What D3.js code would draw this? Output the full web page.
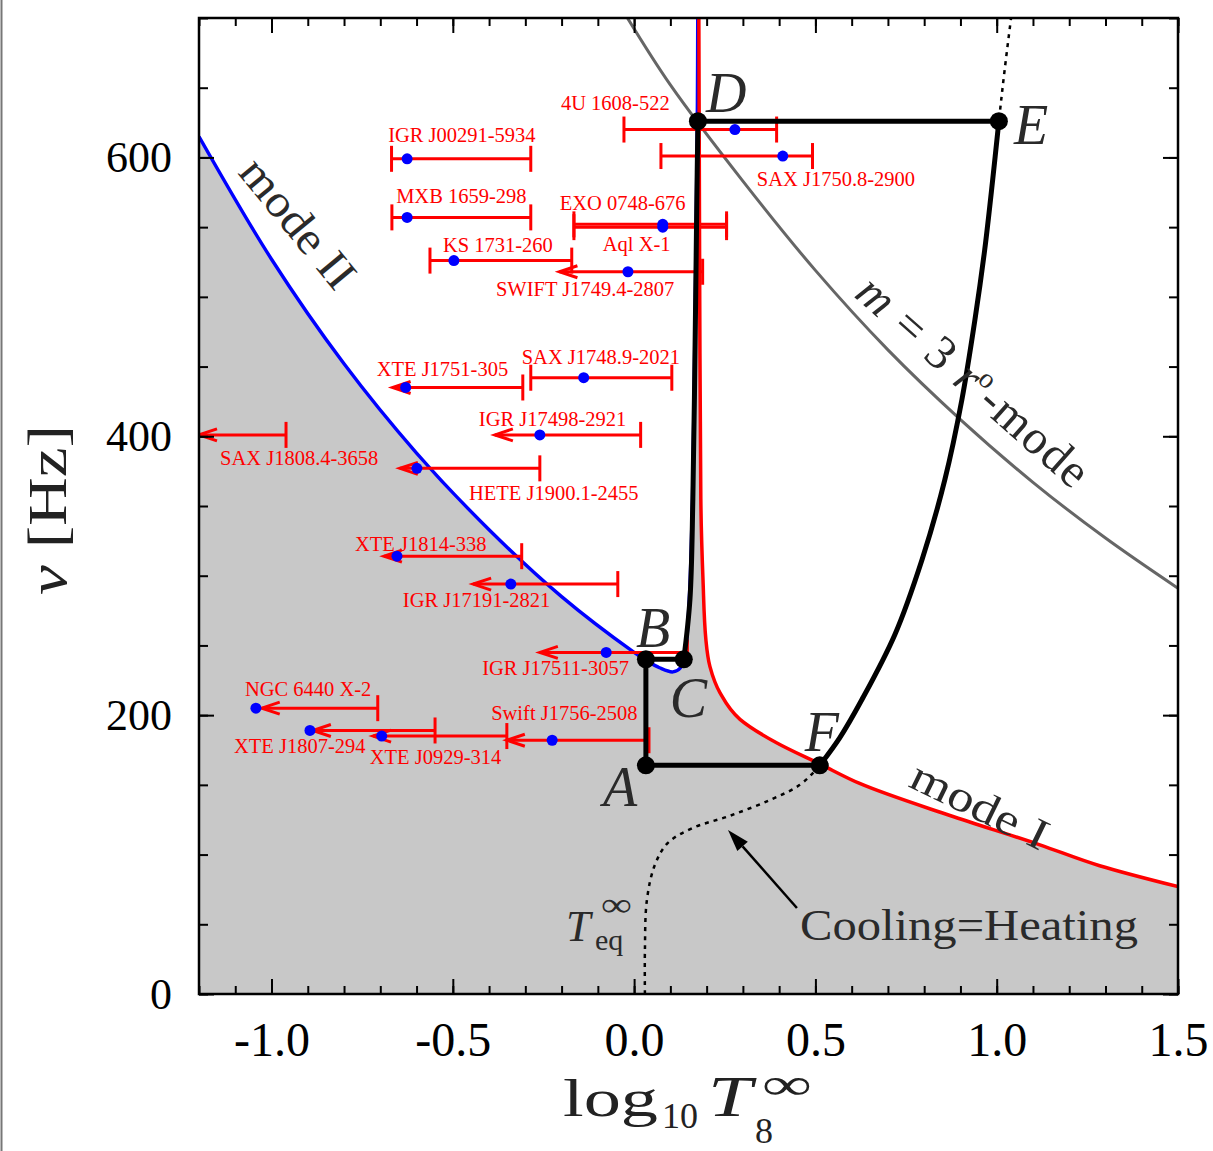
<!DOCTYPE html>
<html>
<head>
<meta charset="utf-8">
<script src="https://cdn.jsdelivr.net/npm/d3@7"></script>
<style>
  body { margin: 0; background: #fff; }
  svg { display: block; }
  text { font-family: "Liberation Serif", "Times New Roman", serif; }
</style>
</head>
<body>
<div id="wrapper"></div>
<script>
// ---- data ----
const sourceNames = ["IGR J00291-5934", "MXB 1659-298", "EXO 0748-676", "Aql X-1", "KS 1731-260",
  "SWIFT J1749.4-2807", "4U 1608-522", "SAX J1750.8-2900", "SAX J1748.9-2021", "XTE J1751-305",
  "IGR J17498-2921", "SAX J1808.4-3658", "HETE J1900.1-2455", "XTE J1814-338", "IGR J17191-2821",
  "IGR J17511-3057", "NGC 6440 X-2", "XTE J1807-294", "XTE J0929-314", "Swift J1756-2508"]
const sourceNu = [599, 557, 552, 550, 526, 518, 620, 601, 442, 435, 401, 401, 377, 314, 294, 245, 205, 189, 185, 182]
const sourceLogT = [-0.626, -0.626, 0.079, 0.079, -0.497, -0.017, 0.278, 0.410, -0.139, -0.630,
  -0.260, null, -0.599, -0.654, -0.340, -0.077, -1.043, -0.894, -0.696, -0.226]
const sourceLow = [-0.669, -0.668, -0.166, -0.166, -0.563, -0.206, -0.028, 0.074, -0.285, -0.666,
  -0.384, -1.2, -0.646, -0.690, -0.444, -0.260, -1.027, -0.886, -0.720, -0.351]
const sourceHigh = [-0.285, -0.285, 0.255, 0.255, -0.172, 0.189, 0.393, 0.492, 0.104, -0.307,
  0.018, -0.960, -0.260, -0.310, -0.045, 0.147, -0.707, -0.549, -0.351, 0.041]
const sourceUpperLimit = [false, false, false, false, false, true, false, false, false, true,
  true, true, true, true, true, true, true, true, true, true]

// mode II instability curve (blue)
const modeIICurve = [[-1.2, 615], [-1.0, 527], [-0.8, 452], [-0.6, 388], [-0.4, 333],
  [-0.2, 285], [0.0, 245], [0.035, 239], [0.07, 234], [0.107, 231], [0.128, 234], [0.14, 243],
  [0.152, 283], [0.161, 355], [0.167, 462], [0.172, 570], [0.1745, 640], [0.1755, 705]]
// mode I instability curve (red)
const modeICurve = [[0.1785, 705], [0.181, 498], [0.184, 355], [0.190, 297], [0.198, 254],
  [0.209, 235], [0.237, 216], [0.292, 197], [0.394, 180], [0.512, 165], [0.622, 151],
  [0.871, 128], [1.119, 107], [1.284, 92], [1.5, 77]]
// m = 3 r-mode curve (grey)
const rMode3Curve = [[-0.03, 705], [0.1, 652], [0.3, 583], [0.5, 519], [0.7, 462], [0.9, 412],
  [1.1, 367], [1.3, 327], [1.5, 291]]
// cooling = heating (dotted)
const eqCurve = [[0.0298, 0], [0.0298, 31.6], [0.0353, 67.5], [0.0573, 92.6], [0.0932, 108.4],
  [0.162, 119.1], [0.264, 127.8], [0.375, 139.2], [0.457, 150], [0.512, 164], [0.567, 183.7],
  [0.628, 211], [0.719, 257.7], [0.794, 311.5], [0.857, 368.9], [0.904, 426.3], [0.940, 483.7],
  [0.967, 534], [0.989, 584.2], [1.006, 626], [1.022, 663], [1.042, 705]]
// spin-up track from C to D
const cdCurve = [[0.137, 240], [0.154, 283], [0.162, 355], [0.168, 462], [0.173, 570], [0.176, 626]]
// track corners
const trackNames = ["A", "B", "C", "D", "E", "F"]
const trackLogT = [0.0325, 0.0325, 0.137, 0.176, 1.006, 0.512]
const trackNu = [164, 240, 240, 626, 626, 164]

const xTicks = [-1.0, -0.5, 0.0, 0.5, 1.0, 1.5]
const yTicks = [0, 200, 400, 600]

// ---- layout ----
const labelOffsets = [[-19, -17], [-11, -14], [-103, -14], [-60, 24], [-11, -9], [-132, 24],
  [-174, -20], [-26, 30], [-62, -14], [-29, -11], [-61, -9], [-66, 30], [52, 32], [-42, -5],
  [-108, 23], [-124, 23], [-11, -12], [-76, 23], [-12, 28], [-61, -20]]
const letterOffsets = [[-43, 41], [-10, -12], [-14, 58], [8, -9], [15, 23], [-15, -14]]

const width = 1213, height = 1151
const plotBox = { left: 199, right: 1178, top: 18, bottom: 994 }

const x = d3.scaleLinear().domain([-1.2, 1.5]).range([plotBox.left, plotBox.right])
const y = d3.scaleLinear().domain([0, 700]).range([plotBox.bottom, plotBox.top])

const svg = d3.select("#wrapper").append("svg")
  .attr("width", width)
  .attr("height", height)

svg.append("line")
  .attr("x1", 1.5).attr("x2", 1.5).attr("y1", 0).attr("y2", height)
  .attr("stroke", "#777").attr("stroke-width", 2)

svg.append("defs").append("clipPath").attr("id", "plotclip")
  .append("rect")
  .attr("x", plotBox.left).attr("y", plotBox.top)
  .attr("width", plotBox.right - plotBox.left)
  .attr("height", plotBox.bottom - plotBox.top)

const plot = svg.append("g").attr("clip-path", "url(#plotclip)")

const smoothLine = d3.line().x(d => x(d[0])).y(d => y(d[1])).curve(d3.curveCatmullRom.alpha(0.5))
const redLine = d3.line().x(d => x(d[0])).y(d => y(d[1])).curve(d3.curveMonotoneY)
const straight = d3.line().x(d => x(d[0])).y(d => y(d[1]))

// grey stable region
plot.append("path")
  .attr("d", `${smoothLine(modeIICurve)}L${redLine(modeICurve).slice(1)}L${x(1.5)},${y(0)}L${x(-1.2)},${y(0)}Z`)
  .attr("fill", "#c8c8c8")

// r-mode m=3
plot.append("path")
  .attr("d", smoothLine(rMode3Curve))
  .attr("fill", "none").attr("stroke", "#666").attr("stroke-width", 3)

// cooling = heating
plot.append("path")
  .attr("d", smoothLine(eqCurve))
  .attr("fill", "none").attr("stroke", "#000").attr("stroke-width", 2.5)
  .attr("stroke-dasharray", "4,5")

plot.append("path")
  .attr("d", smoothLine(modeIICurve))
  .attr("fill", "none").attr("stroke", "#0000ff").attr("stroke-width", 3.4)

plot.append("path")
  .attr("d", redLine(modeICurve))
  .attr("fill", "none").attr("stroke", "#ff0000").attr("stroke-width", 3.5)

// sources
const sources = sourceNames.map((name, i) => ({
  name, nu: sourceNu[i], t: sourceLogT[i], lo: sourceLow[i], hi: sourceHigh[i],
  ul: sourceUpperLimit[i], off: labelOffsets[i]
}))

const bars = plot.append("g")
  .attr("stroke", "#ff0000").attr("stroke-width", 3).attr("fill", "none")
sources.forEach(d => {
  const yy = y(d.nu)
  bars.append("line").attr("x1", x(d.lo)).attr("x2", x(d.hi)).attr("y1", yy).attr("y2", yy)
  bars.append("line").attr("x1", x(d.hi)).attr("x2", x(d.hi)).attr("y1", yy - 13).attr("y2", yy + 13)
  if (d.ul) {
    const tip = x(d.lo)
    bars.append("path").attr("d", `M${tip + 18},${yy - 6}L${tip},${yy}L${tip + 18},${yy + 6}`)
  } else {
    bars.append("line").attr("x1", x(d.lo)).attr("x2", x(d.lo)).attr("y1", yy - 13).attr("y2", yy + 13)
  }
})

// evolutionary track
const track = trackNames.map((n, i) => [trackLogT[i], trackNu[i]])
const efCurve = eqCurve.filter(d => d[1] >= trackNu[5] && d[1] <= trackNu[4])
const trackG = plot.append("g")
  .attr("fill", "none").attr("stroke", "#000").attr("stroke-width", 5)
  .attr("stroke-linecap", "round").attr("stroke-linejoin", "round")
trackG.append("path").attr("d", straight([track[0], track[1], track[2]]))
trackG.append("path").attr("d", smoothLine(cdCurve))
trackG.append("path").attr("d", straight([track[3], track[4]]))
trackG.append("path").attr("d", smoothLine(efCurve))
trackG.append("path").attr("d", straight([track[5], track[0]]))

plot.append("g").selectAll("circle")
  .data(sources.filter(d => d.t !== null))
  .join("circle")
  .attr("cx", d => x(d.t)).attr("cy", d => y(d.nu)).attr("r", 5.5)
  .attr("fill", "#0000ff")

plot.append("g").selectAll("circle")
  .data(track)
  .join("circle")
  .attr("cx", d => x(d[0])).attr("cy", d => y(d[1])).attr("r", 9)
  .attr("fill", "#000")

// source labels
svg.append("g").selectAll("text")
  .data(sources)
  .join("text")
  .attr("x", d => x(d.t !== null ? d.t : d.hi) + d.off[0])
  .attr("y", d => y(d.nu) + d.off[1])
  .attr("font-size", 20.5)
  .attr("fill", "#ff0000")
  .text(d => d.name)

// track letters
svg.append("g").selectAll("text")
  .data(trackNames)
  .join("text")
  .attr("x", (d, i) => x(trackLogT[i]) + letterOffsets[i][0])
  .attr("y", (d, i) => y(trackNu[i]) + letterOffsets[i][1])
  .attr("font-size", 56).attr("font-style", "italic").attr("fill", "#2a2a2a")
  .text(d => d)

// curve labels
svg.append("text")
  .attr("transform", "translate(237,173) rotate(50.5)")
  .attr("font-size", 46).attr("fill", "#2a2a2a")
  .attr("textLength", 155).attr("lengthAdjust", "spacingAndGlyphs")
  .text("mode II")

svg.append("text")
  .attr("transform", "translate(907,786) rotate(26)")
  .attr("font-size", 44).attr("fill", "#2a2a2a")
  .attr("textLength", 148).attr("lengthAdjust", "spacingAndGlyphs")
  .text("mode I")

const rLabel = svg.append("text")
  .attr("transform", "translate(853,296) rotate(41.5)")
  .attr("font-size", 48).attr("fill", "#2a2a2a")
  .attr("letter-spacing", 1.5)
rLabel.append("tspan").attr("font-style", "italic").text("m")
rLabel.append("tspan").text(" = 3 ")
rLabel.append("tspan").attr("font-style", "italic").text("r")
rLabel.append("tspan").attr("font-size", 28).attr("dy", -18).attr("dx", -2).text("o")
rLabel.append("tspan").attr("dy", 18).text("-mode")

svg.append("text")
  .attr("x", 800).attr("y", 940)
  .attr("font-size", 44).attr("fill", "#2a2a2a")
  .attr("textLength", 338).attr("lengthAdjust", "spacingAndGlyphs")
  .text("Cooling=Heating")

svg.append("text").attr("x", 566).attr("y", 941)
  .attr("font-size", 44).attr("font-style", "italic").attr("fill", "#2a2a2a").text("T")
svg.append("text").attr("x", 595).attr("y", 950)
  .attr("font-size", 30).attr("fill", "#2a2a2a").text("eq")
svg.append("text").attr("x", 601).attr("y", 916)
  .attr("font-size", 34).attr("fill", "#2a2a2a")
  .attr("textLength", 31).attr("lengthAdjust", "spacingAndGlyphs").text("∞")

// arrow to cooling=heating curve
const arrowTail = [0.449, 61.7], arrowTip = [0.259, 117.7]
const ax0 = x(arrowTail[0]), ay0 = y(arrowTail[1]), ax1 = x(arrowTip[0]), ay1 = y(arrowTip[1])
const ang = Math.atan2(ay1 - ay0, ax1 - ax0)
const headLen = 22, headW = 7
const bx = ax1 - headLen * Math.cos(ang), by = ay1 - headLen * Math.sin(ang)
svg.append("line")
  .attr("x1", ax0).attr("y1", ay0).attr("x2", bx).attr("y2", by)
  .attr("stroke", "#000").attr("stroke-width", 2.5)
svg.append("path")
  .attr("d", `M${ax1},${ay1}L${bx + headW * Math.sin(ang)},${by - headW * Math.cos(ang)}L${bx - headW * Math.sin(ang)},${by + headW * Math.cos(ang)}Z`)
  .attr("fill", "#000")

// ---- axes ----
const xMinor = d3.range(-12, 16).map(d => d / 10)
const yMinor = d3.range(0, 701, 50)

function ticks(axis, transform) {
  const g = svg.append("g").attr("transform", transform).call(axis)
  g.select(".domain").remove()
  g.selectAll(".tick line").attr("stroke", "#000").attr("stroke-width", 2)
  return g
}
ticks(d3.axisBottom(x).tickValues(xMinor).tickSize(-8).tickFormat(""), `translate(0,${plotBox.bottom})`)
ticks(d3.axisTop(x).tickValues(xMinor).tickSize(-8).tickFormat(""), `translate(0,${plotBox.top})`)
ticks(d3.axisLeft(y).tickValues(yMinor).tickSize(-9).tickFormat(""), `translate(${plotBox.left},0)`)
ticks(d3.axisRight(y).tickValues(yMinor).tickSize(-9).tickFormat(""), `translate(${plotBox.right},0)`)
ticks(d3.axisTop(x).tickValues(xTicks).tickSize(-15).tickFormat(""), `translate(0,${plotBox.top})`)
ticks(d3.axisRight(y).tickValues(yTicks).tickSize(-15).tickFormat(""), `translate(${plotBox.right},0)`)

const xAxisG = ticks(d3.axisBottom(x).tickValues(xTicks).tickSize(-15).tickPadding(28)
  .tickFormat(d => d.toFixed(1)), `translate(0,${plotBox.bottom})`)
xAxisG.selectAll("text").attr("font-size", 48).attr("fill", "#000")
  .attr("font-family", "'Liberation Serif', serif")

const yAxisG = ticks(d3.axisLeft(y).tickValues(yTicks).tickSize(-15).tickPadding(27)
  .tickFormat(d => d), `translate(${plotBox.left},0)`)
yAxisG.selectAll("text").attr("font-size", 44).attr("fill", "#000")
  .attr("font-family", "'Liberation Serif', serif")

svg.append("rect")
  .attr("x", plotBox.left).attr("y", plotBox.top)
  .attr("width", plotBox.right - plotBox.left).attr("height", plotBox.bottom - plotBox.top)
  .attr("fill", "none").attr("stroke", "#000").attr("stroke-width", 2.5)

// axis titles
svg.append("text").attr("x", 563).attr("y", 1116)
  .attr("font-size", 52).attr("fill", "#222")
  .attr("textLength", 95).attr("lengthAdjust", "spacingAndGlyphs").text("log")
svg.append("text").attr("x", 662).attr("y", 1128)
  .attr("font-size", 36).attr("fill", "#222").text("10")
svg.append("text").attr("x", 708).attr("y", 1116)
  .attr("font-size", 56).attr("font-style", "italic").attr("fill", "#222")
  .attr("textLength", 44).attr("lengthAdjust", "spacingAndGlyphs").text("T")
svg.append("text").attr("x", 755).attr("y", 1143)
  .attr("font-size", 36).attr("fill", "#222").text("8")
svg.append("text").attr("x", 762).attr("y", 1099)
  .attr("font-size", 44).attr("fill", "#222")
  .attr("textLength", 50).attr("lengthAdjust", "spacingAndGlyphs").text("∞")

const yTitle = svg.append("text")
  .attr("transform", "translate(66,510) rotate(-90)")
  .attr("text-anchor", "middle")
  .attr("font-size", 54).attr("fill", "#222")
  .attr("textLength", 170).attr("lengthAdjust", "spacingAndGlyphs")
yTitle.append("tspan").attr("font-style", "italic").text("ν")
yTitle.append("tspan").text(" [Hz]")
</script>
</body>
</html>
